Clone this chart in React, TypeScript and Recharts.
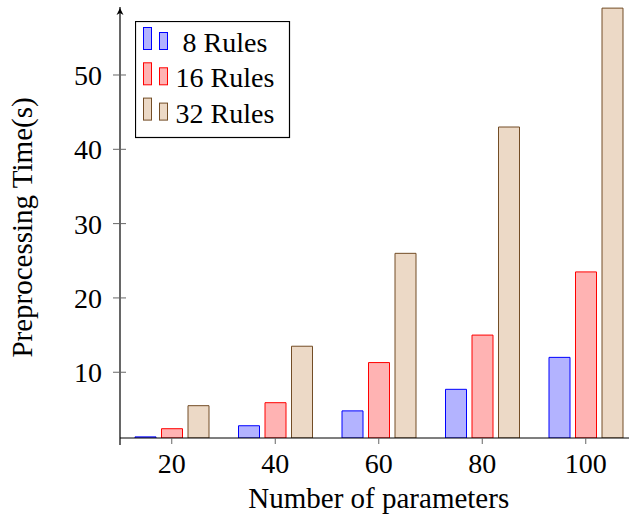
import React from 'react';
import { BarChart, Bar, XAxis, YAxis, Legend } from 'recharts';

// values
const categories = ['20', '40', '60', '80', '100'];
const rules8 = [1.3, 2.8, 4.8, 7.7, 12.0];
const rules16 = [2.4, 5.9, 11.3, 15.0, 23.5];
const rules32 = [5.5, 13.5, 26.0, 43.0, 59.0];
const yTicks = [10, 20, 30, 40, 50];
const seriesNames = ['8 Rules', '16 Rules', '32 Rules'];

const data = categories.map((c, i) => ({
  param: c,
  r8: rules8[i],
  r16: rules16[i],
  r32: rules32[i],
}));

const series = [
  { key: 'r8', fill: '#b3b3ff', stroke: '#0000ff' },
  { key: 'r16', fill: '#ffb3b3', stroke: '#ff0000' },
  { key: 'r32', fill: '#ecd9c6', stroke: '#734d26' },
];

const FONT = '"Liberation Serif", "Times New Roman", serif';

const YTick = ({ x, y, payload }: any) => (
  <g>
    <line x1={x - 7} x2={x + 6} y1={y} y2={y} stroke="#666" strokeWidth={1} />
    <text x={x - 18} y={y + 10} textAnchor="end" fontFamily={FONT} fontSize={28} fill="#000">
      {payload.value}
    </text>
  </g>
);

const XTick = ({ x, y, payload }: any) => (
  <g>
    <line x1={x} x2={x} y1={y} y2={y + 6} stroke="#666" strokeWidth={1} />
    <text x={x} y={y + 35} textAnchor="middle" fontFamily={FONT} fontSize={28} fill="#000">
      {payload.value}
    </text>
  </g>
);

// y axis decorations: arrow head, small overhang below the x axis, rotated title
const YTitle = ({ viewBox }: any) => {
  const vb = viewBox || { x: 0, y: 7, width: 120, height: 431 };
  const ax = vb.x + vb.width;
  const top = vb.y;
  const bottom = vb.y + vb.height;
  const cy = top + vb.height / 2 + 5;
  return (
    <g>
      <line x1={ax} x2={ax} y1={bottom} y2={bottom + 7} stroke="#000" strokeWidth={1.2} />
      <path d={`M${ax},${top + 1} l-3.5,7 l3.5,-2 l3.5,2 z`} fill="#000" />
      <text
        x={32}
        y={cy}
        transform={`rotate(-90 32 ${cy})`}
        textAnchor="middle"
        fontFamily={FONT}
        fontSize={29}
        fill="#000"
      >
        Preprocessing Time(s)
      </text>
    </g>
  );
};

const XTitle = ({ viewBox }: any) => {
  const vb = viewBox || { x: 120, y: 438, width: 517, height: 81 };
  return (
    <text
      x={vb.x + vb.width / 2}
      y={vb.y + 70}
      textAnchor="middle"
      fontFamily={FONT}
      fontSize={29}
      fill="#000"
    >
      Number of parameters
    </text>
  );
};

const LegendBox = () => (
  <svg width={156} height={118} style={{ display: 'block' }}>
    <rect x={0.5} y={0.5} width={154} height={116} fill="#fff" stroke="#000" strokeWidth={1.2} />
    {series.map((s, i) => {
      const base = 28.5 + i * 35.3;
      return (
        <g key={s.key}>
          <rect x={8.5} y={base - 22} width={8} height={22} fill={s.fill} stroke={s.stroke} />
          <rect x={24.5} y={base - 17} width={8} height={17} fill={s.fill} stroke={s.stroke} />
          <text x={90} y={base + 2.5} textAnchor="middle" fontFamily={FONT} fontSize={28} fill="#000">
            {seriesNames[i]}
          </text>
        </g>
      );
    })}
  </svg>
);

export default function App() {
  return (
    <div style={{ position: 'absolute', left: 0, top: 0, width: 629, height: 519, overflow: 'hidden', background: '#fff' }}>
      <BarChart
        width={640}
        height={519}
        data={data}
        margin={{ top: 7, right: 2.5, left: 0, bottom: 0 }}
        barSize={21}
        barGap={5.5}
      >
        <XAxis
          dataKey="param"
          height={81}
          interval={0}
          tickSize={0}
          tickMargin={0}
          tick={<XTick />}
          axisLine={{ stroke: '#000', strokeWidth: 1.2 }}
          tickLine={false}
          label={<XTitle />}
        />
        <YAxis
          type="number"
          width={120}
          domain={[1.15, 59.15]}
          allowDataOverflow
          ticks={yTicks}
          interval={0}
          tickSize={0}
          tickMargin={0}
          tick={<YTick />}
          axisLine={{ stroke: '#000', strokeWidth: 1.2 }}
          tickLine={false}
          label={<YTitle />}
        />
        <Legend
          content={<LegendBox />}
          layout="horizontal"
          verticalAlign="middle"
          align="center"
          wrapperStyle={{ left: 135, top: 21, width: 156, height: 118 }}
        />
        {series.map((s, i) => (
          <Bar
            key={s.key}
            dataKey={s.key}
            name={seriesNames[i]}
            fill={s.fill}
            stroke={s.stroke}
            strokeWidth={1}
            isAnimationActive={false}
          />
        ))}
      </BarChart>
    </div>
  );
}
